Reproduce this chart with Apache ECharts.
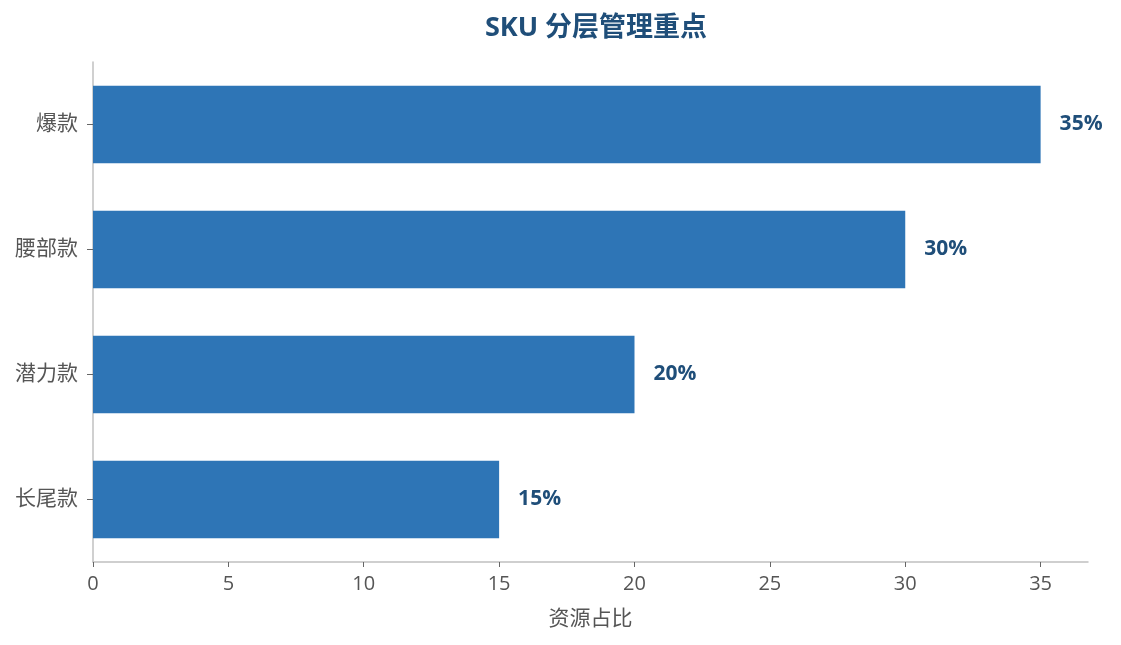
<!DOCTYPE html>
<html>
<head>
<meta charset="utf-8">
<script src="https://cdn.jsdelivr.net/npm/echarts@6/dist/echarts.min.js"></script>
<style>
  html, body { margin: 0; padding: 0; background: #fff; }
  #main { width: 1121px; height: 645px; }
</style>
</head>
<body>
<div id="main"></div>
<script>
// 分层类别（从下到上）
var categories = ['长尾款', '潜力款', '腰部款', '爆款'];
// 资源占比 %
var shares = [15, 20, 30, 35];
var xTicks = [0, 5, 10, 15, 20, 25, 30, 35];

var font = '"Open Sans", "Noto Sans CJK SC", sans-serif';
var chart = echarts.init(document.getElementById('main'));

chart.setOption({
  textStyle: { fontFamily: font },
  title: {
    text: 'SKU 分层管理重点',
    left: 591,          // 标题居中于绘图区
    textAlign: 'center',
    top: 10,
    textStyle: { fontSize: 27, fontWeight: 'bold', color: '#1f4e79', fontFamily: font }
  },
  grid: { left: 93, right: 33, top: 62, bottom: 83 },
  xAxis: {
    type: 'value',
    min: 0,
    max: 36.75,
    interval: 5,
    name: '资源占比',
    nameLocation: 'middle',
    nameGap: 47,
    nameTextStyle: { fontSize: 21, color: '#555', fontFamily: font },
    axisLine: { show: true, lineStyle: { color: '#c0c0c0', width: 1.5 } },
    axisTick: { show: true, length: 5, customValues: xTicks, lineStyle: { color: '#666' } },
    axisLabel: { fontSize: 20, color: '#555', margin: 12, customValues: xTicks, fontFamily: font },
    splitLine: { show: false }
  },
  yAxis: {
    type: 'category',
    data: categories,
    axisLine: { show: true, lineStyle: { color: '#c0c0c0', width: 1.5 } },
    axisTick: { show: true, alignWithLabel: true, length: 6, lineStyle: { color: '#666' } },
    axisLabel: { fontSize: 21, color: '#555', margin: 15, fontFamily: font }
  },
  series: [{
    type: 'bar',
    data: shares,
    barCategoryGap: '38%',
    itemStyle: { color: '#2e75b6' },
    label: {
      show: true,
      position: 'right',
      distance: 19,
      formatter: '{c}%',
      fontSize: 21,
      fontWeight: 'bold',
      color: '#1f4e79',
      fontFamily: font
    }
  }]
});
</script>
</body>
</html>
